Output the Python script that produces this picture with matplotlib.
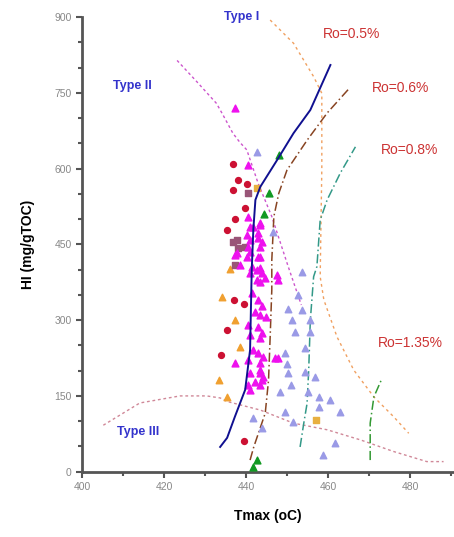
import matplotlib.pyplot as plt
from matplotlib.ticker import MultipleLocator

plt.rcParams['font.family'] = ['Liberation Sans', 'DejaVu Sans']

# kerogen type boundaries
type1_t = [433.7, 435.4, 437.3, 439.8, 441.0, 441.4, 441.8, 442.3, 443.5, 447.6, 451.6, 455.7, 460.6]
type1_hi = [49, 67, 109, 162, 241, 399, 480, 538, 564, 617, 670, 716, 805]
type2_t = [423.2, 428.0, 432.8, 434.4, 436.8, 438.5, 440.2, 443.0, 446.3, 450.3, 453.5]
type2_hi = [814, 772, 729, 706, 670, 652, 637, 570, 505, 406, 330]
type3_t = [405.2, 414.1, 423.9, 430.4, 433.7, 435.4, 443.5, 451.6, 459.8, 467.9, 476.0, 484.1, 488.2]
type3_hi = [92, 136, 150, 150, 146, 139, 122, 96, 83, 63, 40, 20, 20]

# vitrinite reflectance isolines
ro05_t = [445.9, 451.6, 456.5, 458.5, 458.5, 458.1, 459.0, 462.2, 466.3, 471.2, 476.0, 479.7]
ro05_hi = [894, 848, 782, 749, 600, 386, 340, 267, 201, 148, 109, 76]
ro06_t = [441.0, 441.9, 444.7, 445.5, 445.9, 446.3, 446.3, 446.8, 448.0, 450.0, 454.9, 459.8, 465.0]
ro06_hi = [23, 49, 116, 181, 267, 360, 419, 505, 551, 597, 656, 710, 757]
ro08_t = [453.2, 454.1, 454.9, 455.3, 455.7, 456.5, 457.3, 457.7, 458.1, 459.8, 463.0, 466.7]
ro08_hi = [49, 96, 135, 201, 300, 386, 406, 452, 498, 538, 591, 643]
ro135_t = [470.3, 470.3, 471.2, 473.2]
ro135_hi = [23, 96, 148, 185]

# samples
red_t = [436.9, 438.1, 440.2, 436.9, 439.8, 437.3, 435.4, 437.2, 439.6, 435.4, 433.9, 439.6]
red_hi = [610, 577, 569, 557, 521, 501, 478, 340, 331, 280, 231, 61]
orange_t = [436.1, 434.1, 437.3, 438.5, 433.5, 435.3]
orange_hi = [402, 346, 300, 246, 181, 148]
square_t = [436.9, 438.1, 437.3, 440.6, 439.8, 437.8]
square_hi = [455, 442, 409, 551, 445, 458]
gold_t = [442.7, 457.2]
gold_hi = [561, 102]
green_t = [448.0, 445.5, 444.5, 442.6, 441.8]
green_hi = [627, 551, 511, 23, 10]
magenta_t = [437.3, 440.6,
             437.7, 441.0, 443.4, 442.6, 443.8, 444.6, 442.6, 441.0, 443.4, 447.5, 447.9,
             441.4, 443.0, 443.8, 442.2, 443.4, 445.0, 440.6, 443.0, 443.8, 441.0, 443.4,
             441.8, 443.0, 444.2, 447.1, 447.9, 440.6, 443.4, 437.3, 443.4, 441.0, 443.8,
             442.2, 440.6, 441.0,
             441.0, 443.4, 440.2, 443.0, 440.6, 443.4, 437.3, 440.2, 443.0, 438.5, 441.4, 443.4,
             443.4, 444.2, 443.4,
             440.6, 441.8, 443.4, 443.0, 441.0, 443.8]
magenta_hi = [719, 608,
              432, 435, 425, 399, 393, 383, 379, 393, 376, 389, 379,
              353, 340, 327, 317, 310, 307, 290, 287, 274, 271, 264,
              241, 234, 228, 226, 226, 221, 215, 215, 195, 195, 181,
              178, 172, 162,
              485, 488, 468, 462, 445, 445, 429, 425, 425, 409, 406, 403,
              201, 188, 172,
              505, 485, 492, 472, 459, 455]
lav_t = [442.6, 446.7, 453.6, 452.8, 450.3, 453.6, 451.2, 455.6, 455.6, 452.0,
         454.4, 449.5, 449.9, 450.3, 451.1, 454.4, 456.8, 448.3, 455.2, 457.7,
         457.7, 460.5, 462.9, 449.5, 451.5, 461.7, 458.9, 443.8, 441.8]
lav_hi = [633, 475, 396, 350, 323, 320, 300, 300, 277, 277,
          244, 234, 214, 195, 172, 198, 188, 158, 158, 148,
          129, 142, 119, 119, 99, 56, 33, 86, 106]

fig = plt.figure(figsize=(4.54, 5.37), dpi=100)
ax = fig.add_axes([82 / 454, 65.3 / 537, 371 / 454, 454.7 / 537])

ax.plot(type3_t, type3_hi, ls=(0, (2, 2)), color='#d08898', lw=1)
ax.plot(type2_t, type2_hi, ls=(0, (2, 2)), color='#cc55cc', lw=1)
ax.plot(ro05_t, ro05_hi, ls=(0, (2, 2.5)), color='#f0a060', lw=1)
ax.plot(ro06_t, ro06_hi, ls=(0, (6, 2, 1, 2)), color='#884422', lw=1.1)
ax.plot(ro08_t, ro08_hi, ls=(0, (6, 2, 1, 2)), color='#339988', lw=1.1)
ax.plot(ro135_t, ro135_hi, ls=(0, (6, 2, 1, 2)), color='#339933', lw=1.1)

ax.scatter(lav_t, lav_hi, marker='^', s=22, color='#9a9ae6', zorder=3)
ax.scatter(red_t, red_hi, marker='o', s=18, color='#cc1133', zorder=3)
ax.scatter(orange_t, orange_hi, marker='^', s=22, color='#f0a030', zorder=3)
ax.scatter(square_t, square_hi, marker='s', s=16, color='#995577', zorder=3)
ax.scatter(magenta_t, magenta_hi, marker='^', s=24, color='#ee11ee', zorder=4)
ax.scatter(gold_t, gold_hi, marker='s', s=18, color='#e8b040', zorder=4)
ax.scatter(green_t, green_hi, marker='^', s=24, color='#119922', zorder=4)

ax.plot(type1_t, type1_hi, color='#101090', lw=1.4, zorder=5)

ax.text(439, 900, 'Type I', color='#3333cc', fontsize=9, fontweight='bold', ha='center', va='center')
ax.text(412.4, 763, 'Type II', color='#3333cc', fontsize=9, fontweight='bold', ha='center', va='center')
ax.text(413.7, 79, 'Type III', color='#3333cc', fontsize=9, fontweight='bold', ha='center', va='center')
ax.text(465.8, 866, 'Ro=0.5%', color='#cc3333', fontsize=10, ha='center', va='center')
ax.text(477.8, 759, 'Ro=0.6%', color='#cc3333', fontsize=10, ha='center', va='center')
ax.text(480, 636, 'Ro=0.8%', color='#cc3333', fontsize=10, ha='center', va='center')
ax.text(480, 255, 'Ro=1.35%', color='#cc3333', fontsize=10, ha='center', va='center')

ax.set_xlim(400, 490.5)
ax.set_ylim(0, 900)
ax.xaxis.set_major_locator(MultipleLocator(20))
ax.xaxis.set_minor_locator(MultipleLocator(10))
ax.yaxis.set_major_locator(MultipleLocator(150))
ax.yaxis.set_minor_locator(MultipleLocator(50))
for s in ['top', 'right']:
    ax.spines[s].set_visible(False)
for s in ['left', 'bottom']:
    ax.spines[s].set_color('#555555')
    ax.spines[s].set_linewidth(2)
ax.tick_params(which='both', color='#555555', width=1.5, labelsize=7.5, labelcolor='#888888')
ax.tick_params(which='major', length=4)
ax.tick_params(which='minor', length=3)

ax.set_xlabel('Tmax (oC)', fontsize=10, fontweight='bold', labelpad=12)
ax.set_ylabel('HI (mg/gTOC)', fontsize=10, fontweight='bold', labelpad=14)

fig.savefig('out.png', dpi=100)
